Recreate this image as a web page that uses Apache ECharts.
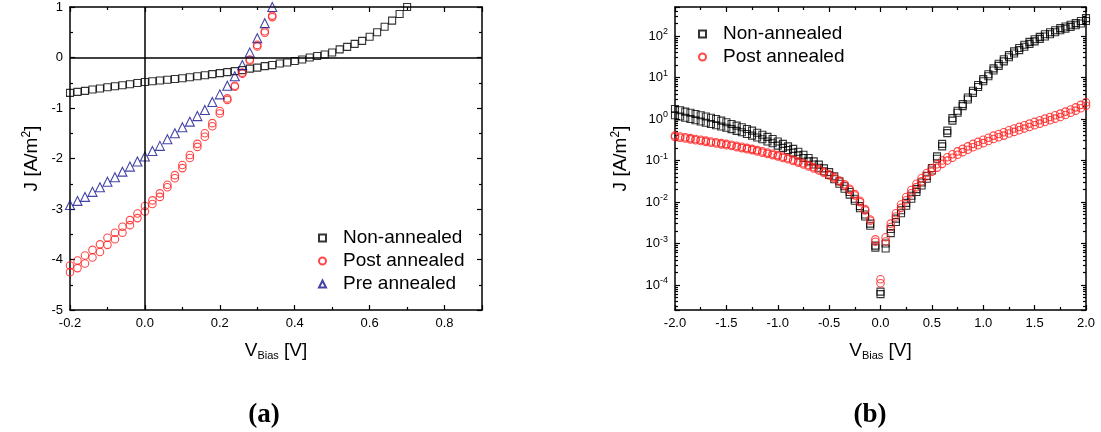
<!DOCTYPE html>
<html>
<head>
<meta charset="utf-8">
<script src="https://cdn.jsdelivr.net/npm/echarts@6/dist/echarts.min.js"></script>
<style>
  html, body { margin: 0; padding: 0; background: #fff; }
  #chart { width: 1101px; height: 432px; }
</style>
</head>
<body>
<div id="chart"></div>
<script>
// ---------- panel (a): J–V curves, linear scale ----------
const vLin = [-0.20,-0.18,-0.16,-0.14,-0.12,-0.10,-0.08,-0.06,-0.04,-0.02,
  0.00,0.02,0.04,0.06,0.08,0.10,0.12,0.14,0.16,0.18,
  0.20,0.22,0.24,0.26,0.28,0.30,0.32,0.34,0.36,0.38,
  0.40,0.42,0.44,0.46,0.48,0.50,0.52,0.54,0.56,0.58,
  0.60,0.62,0.64,0.66,0.68,0.70];
const jNonLin = [-0.70,-0.68,-0.66,-0.635,-0.615,-0.59,-0.57,-0.55,-0.53,-0.505,
  -0.485,-0.47,-0.455,-0.44,-0.425,-0.41,-0.39,-0.37,-0.35,-0.33,
  -0.31,-0.29,-0.27,-0.25,-0.22,-0.20,-0.17,-0.15,-0.12,-0.10,
  -0.07,-0.04,0.00,0.03,0.06,0.10,0.16,0.21,0.27,0.33,
  0.41,0.50,0.61,0.73,0.86,1.00];
const vAnn = [-0.20,-0.18,-0.16,-0.14,-0.12,-0.10,-0.08,-0.06,-0.04,-0.02,
  0.00,0.02,0.04,0.06,0.08,0.10,0.12,0.14,0.16,0.18,
  0.20,0.22,0.24,0.26,0.28,0.30,0.32,0.34];
// post annealed: two sweeps
const jPostLinA = [-4.12,-4.02,-3.92,-3.81,-3.70,-3.57,-3.47,-3.35,-3.22,-3.09,
  -2.94,-2.83,-2.69,-2.52,-2.33,-2.13,-1.93,-1.71,-1.50,-1.30,
  -1.06,-0.81,-0.56,-0.30,-0.04,0.25,0.52,0.83];
const jPostLinB = [-4.25,-4.17,-4.08,-3.96,-3.85,-3.71,-3.60,-3.47,-3.32,-3.18,
  -3.05,-2.90,-2.76,-2.57,-2.39,-2.19,-1.99,-1.77,-1.57,-1.36,
  -1.11,-0.84,-0.58,-0.32,-0.06,0.22,0.49,0.80];
const jPreLin = [-2.92,-2.84,-2.76,-2.66,-2.57,-2.46,-2.37,-2.26,-2.16,-2.06,
  -1.96,-1.85,-1.75,-1.62,-1.50,-1.38,-1.27,-1.16,-1.04,-0.88,
  -0.73,-0.56,-0.37,-0.15,0.10,0.38,0.68,1.00];
const xLabelsA = ['-0.2','0.0','0.2','0.4','0.6','0.8'];
const yLabelsA = ['-5','-4','-3','-2','-1','0','1'];

// ---------- panel (b): |J|–V curves, log scale ----------
const vLog = [-2.00,-1.95,-1.90,-1.85,-1.80,-1.75,-1.70,-1.65,-1.60,-1.55,
  -1.50,-1.45,-1.40,-1.35,-1.30,-1.25,-1.20,-1.15,-1.10,-1.05,
  -1.00,-0.95,-0.90,-0.85,-0.80,-0.75,-0.70,-0.65,-0.60,-0.55,
  -0.50,-0.45,-0.40,-0.35,-0.30,-0.25,-0.20,-0.15,-0.10,-0.05,
  0.00,
  0.05,0.10,0.15,0.20,0.25,0.30,0.35,0.40,0.45,0.50,
  0.55,0.60,0.65,0.70,0.75,0.80,0.85,0.90,0.95,1.00,
  1.05,1.10,1.15,1.20,1.25,1.30,1.35,1.40,1.45,1.50,
  1.55,1.60,1.65,1.70,1.75,1.80,1.85,1.90,1.95,2.00];
const jNonLogA = [1.74,1.62,1.51,1.41,1.32,1.23,1.15,1.07,1.00,0.912,
  0.832,0.759,0.692,0.631,0.575,0.525,0.468,0.417,0.372,0.331,
  0.288,0.251,0.219,0.191,0.162,0.138,0.115,0.0955,0.0794,0.0646,
  0.0525,0.0417,0.0316,0.0240,0.0174,0.0120,0.00794,0.00501,0.00302,0.000891,
  0.0000603,
  0.000759,0.00224,0.00398,0.00631,0.00955,0.0141,0.0204,0.0295,0.0427,0.0661,
  0.126,0.251,0.525,1.05,1.58,2.29,3.31,4.79,6.61,9.12,
  12.0,16.6,21.4,27.5,34.7,42.7,51.3,61.7,72.4,83.2,
  95.5,110,123,138,155,170,186,204,229,269];
const jNonLogB = [1.23,1.15,1.07,1.00,0.933,0.871,0.813,0.759,0.708,0.661,
  0.617,0.569,0.519,0.479,0.437,0.398,0.359,0.324,0.288,0.260,
  0.229,0.202,0.178,0.155,0.133,0.115,0.0955,0.0804,0.0668,0.0550,
  0.0447,0.0355,0.0275,0.0209,0.0151,0.0107,0.00708,0.00447,0.00269,0.000794,
  0.0000692,
  0.00100,0.00178,0.00331,0.00537,0.00813,0.0120,0.0174,0.0251,0.0363,0.0575,
  0.110,0.219,0.457,0.912,1.41,2.04,2.95,4.27,5.89,8.13,
  10.7,14.8,19.1,24.5,30.9,38.0,45.7,55.0,64.6,74.1,
  85.1,97.7,110,123,138,151,166,182,200,229];
const jPostLogA = [0.398,0.380,0.363,0.347,0.331,0.316,0.302,0.288,0.275,0.263,
  0.251,0.240,0.226,0.214,0.202,0.191,0.178,0.166,0.155,0.145,
  0.135,0.124,0.115,0.105,0.0955,0.0861,0.0776,0.0692,0.0617,0.0537,
  0.0468,0.0398,0.0331,0.0269,0.0209,0.0155,0.0107,0.00676,0.00380,0.00126,
  0.000138,
  0.00141,0.00302,0.00537,0.00871,0.0132,0.0195,0.0275,0.0380,0.0501,0.0646,
  0.0813,0.100,0.120,0.141,0.166,0.191,0.219,0.251,0.282,0.316,
  0.355,0.398,0.437,0.479,0.537,0.589,0.646,0.708,0.776,0.851,
  0.933,1.02,1.12,1.23,1.35,1.51,1.70,1.91,2.19,2.51];
const jPostLogB = [0.370,0.353,0.338,0.323,0.308,0.294,0.281,0.268,0.256,0.245,
  0.233,0.223,0.210,0.199,0.188,0.178,0.166,0.154,0.144,0.135,
  0.126,0.115,0.107,0.0977,0.0888,0.0801,0.0722,0.0644,0.0574,0.0499,
  0.0435,0.0370,0.0308,0.0250,0.0194,0.0144,0.00995,0.00629,0.00353,0.00110,
  0.000110,
  0.00112,0.00251,0.00446,0.00723,0.0110,0.0162,0.0228,0.0315,0.0416,0.0536,
  0.0675,0.0830,0.0996,0.117,0.138,0.159,0.182,0.208,0.234,0.262,
  0.295,0.330,0.363,0.398,0.446,0.489,0.536,0.588,0.644,0.706,
  0.774,0.847,0.930,1.02,1.12,1.25,1.41,1.59,1.82,2.08];
const xLabelsB = ['-2.0','-1.5','-1.0','-0.5','0.0','0.5','1.0','1.5','2.0'];
const logDecades = [-4,-3,-2,-1,0,1,2];
const logMinorSteps = [2,3,4,5,6,7,8,9];
const logRange = [2.5e-5, 500];

// ---------- shared styling ----------
const FONT = '"Liberation Sans", Arial, Helvetica, sans-serif';
const BLACK = '#000';
const RED = '#ff1a1a';
const NAVY = '#151590';

const pairs = (xs, ys) => xs.map((x, i) => [x, ys[i]]);
const labelFrom = list => v => {
  const hit = list.find(s => Math.abs(parseFloat(s) - v) < 1e-9);
  return hit === undefined ? '' : hit;
};

const axisLine = { show: true, onZero: false, lineStyle: { color: BLACK, width: 1.5 } };
const tick = { show: true, inside: true, length: 5, lineStyle: { color: BLACK, width: 1.2 } };
const minor = { show: true, splitNumber: 2, length: 3, lineStyle: { color: BLACK, width: 1.2 } };
const label = { color: BLACK, fontSize: 13, fontFamily: FONT, margin: 7 };

const vBiasName = '{v|V}{s|Bias}{v| [V]}';
const vBiasRich = {
  v: { fontSize: 19, fontFamily: FONT, color: BLACK },
  s: { fontSize: 11, fontFamily: FONT, color: BLACK, padding: [9, 0, 0, 0] }
};
const jName = '{v|J [A/m}{p|2}{v|]}';
const jRich = {
  v: { fontSize: 19, fontFamily: FONT, color: BLACK },
  p: { fontSize: 12, fontFamily: FONT, color: BLACK, padding: [0, 0, 9, 0] }
};

function linX(grid, min, max, interval, labels, mirror) {
  return {
    type: 'value', gridIndex: grid, position: mirror ? 'top' : 'bottom',
    min, max, interval,
    axisLine, axisTick: tick, minorTick: minor, splitLine: { show: false },
    axisLabel: mirror ? { show: false } : Object.assign({ formatter: labelFrom(labels) }, label),
    name: mirror ? '' : vBiasName, nameLocation: 'middle', nameGap: 31,
    nameTextStyle: { rich: vBiasRich }
  };
}

const logMinorTicks = [];
logDecades.concat([-5]).forEach(d => logMinorSteps.forEach(k => {
  const t = Math.log10(k) + d;
  if (t > Math.log10(logRange[0]) && t < Math.log10(logRange[1])) logMinorTicks.push(t);
}));

function logY(mirror) {
  return {
    type: 'log', logBase: 10, gridIndex: 1, position: mirror ? 'right' : 'left',
    min: logRange[0], max: logRange[1],
    axisLine, axisTick: tick, splitLine: { show: false }, minorTick: { show: false },
    axisLabel: mirror ? { show: false } : {
      formatter: v => {
        const e = Math.log10(v), n = Math.round(e);
        if (Math.abs(e - n) > 1e-6 || logDecades.indexOf(n) < 0) return '';
        return '{b|10}{s|' + n + '}';
      },
      margin: 7,
      rich: {
        b: { fontSize: 13, fontFamily: FONT, color: BLACK },
        s: { fontSize: 9, fontFamily: FONT, color: BLACK, padding: [0, 0, 8, 0] }
      }
    },
    name: mirror ? '' : jName, nameLocation: 'middle', nameGap: 44,
    nameTextStyle: { rich: jRich }
  };
}

// short ticks at 2..9 within every decade of the log axis
function logMinorAxis(mirror) {
  return {
    type: 'value', gridIndex: 1, position: mirror ? 'right' : 'left',
    min: Math.log10(logRange[0]), max: Math.log10(logRange[1]),
    axisLine: { show: false, onZero: false }, splitLine: { show: false },
    axisLabel: { show: false },
    axisTick: { show: true, inside: true, length: 3, customValues: logMinorTicks,
      lineStyle: { color: BLACK, width: 1.2 } }
  };
}

const hollow = c => ({ color: 'rgba(255,255,255,0)', borderColor: c, borderWidth: 1.1 });
const legendText = { fontSize: 19, fontFamily: FONT, color: BLACK, lineHeight: 20, padding: [0, 0, 0, 12] };
const captionFont = 'bold 27px "Liberation Serif", "DejaVu Serif", serif';

const option = {
  animation: false,
  backgroundColor: '#fff',
  grid: [
    { left: 70, top: 7, width: 412, height: 303 },
    { left: 675, top: 7, width: 411, height: 303 }
  ],
  xAxis: [
    linX(0, -0.2, 0.9, 0.2, xLabelsA, false),
    linX(0, -0.2, 0.9, 0.2, xLabelsA, true),
    linX(1, -2, 2, 0.5, xLabelsB, false),
    linX(1, -2, 2, 0.5, xLabelsB, true)
  ],
  yAxis: [
    {
      type: 'value', gridIndex: 0, position: 'left', min: -5, max: 1, interval: 1,
      axisLine, axisTick: tick, minorTick: minor, splitLine: { show: false },
      axisLabel: Object.assign({ formatter: labelFrom(yLabelsA) }, label),
      name: jName, nameLocation: 'middle', nameGap: 28, nameTextStyle: { rich: jRich }
    },
    {
      type: 'value', gridIndex: 0, position: 'right', min: -5, max: 1, interval: 1,
      axisLine, axisTick: tick, minorTick: minor, splitLine: { show: false },
      axisLabel: { show: false }
    },
    logY(false),
    logY(true),
    logMinorAxis(false),
    logMinorAxis(true)
  ],
  legend: [
    {
      data: ['Non-annealed', 'Post annealed', 'Pre annealed'],
      orient: 'vertical', left: 313, top: 223, itemWidth: 7, itemHeight: 7, itemGap: 3,
      selectedMode: false, textStyle: legendText
    },
    {
      data: ['Non-annealed', 'Post annealed'],
      orient: 'vertical', left: 693, top: 19, itemWidth: 7, itemHeight: 7, itemGap: 3,
      selectedMode: false, textStyle: legendText
    }
  ],
  series: [
    {
      name: 'Non-annealed', type: 'scatter', xAxisIndex: 0, yAxisIndex: 0,
      symbol: 'rect', symbolSize: 7, itemStyle: hollow(BLACK),
      data: pairs(vLin, jNonLin),
      markLine: {
        silent: true, symbol: ['none', 'none'], label: { show: false },
        lineStyle: { color: BLACK, width: 1.5, type: 'solid' },
        data: [{ xAxis: 0 }, { yAxis: 0 }]
      }
    },
    {
      name: 'Post annealed', type: 'scatter', xAxisIndex: 0, yAxisIndex: 0,
      symbol: 'circle', symbolSize: 7.5, itemStyle: hollow(RED),
      data: pairs(vAnn, jPostLinA).concat(pairs(vAnn, jPostLinB))
    },
    {
      name: 'Pre annealed', type: 'scatter', xAxisIndex: 0, yAxisIndex: 0,
      symbol: 'triangle', symbolSize: 9, itemStyle: hollow(NAVY),
      data: pairs(vAnn, jPreLin)
    },
    {
      name: 'Non-annealed', type: 'scatter', xAxisIndex: 2, yAxisIndex: 2,
      symbol: 'rect', symbolSize: 7, itemStyle: hollow(BLACK),
      data: pairs(vLog, jNonLogA).concat(pairs(vLog, jNonLogB))
    },
    {
      name: 'Post annealed', type: 'scatter', xAxisIndex: 2, yAxisIndex: 2,
      symbol: 'circle', symbolSize: 7.5, itemStyle: hollow(RED),
      data: pairs(vLog, jPostLogA).concat(pairs(vLog, jPostLogB))
    }
  ],
  graphic: [
    { type: 'text', x: 264, y: 415,
      style: { text: '(a)', textAlign: 'center', textVerticalAlign: 'middle',
        font: captionFont, fill: BLACK } },
    { type: 'text', x: 870, y: 415,
      style: { text: '(b)', textAlign: 'center', textVerticalAlign: 'middle',
        font: captionFont, fill: BLACK } }
  ]
};

const chart = echarts.init(document.getElementById('chart'), null, { renderer: 'canvas' });
chart.setOption(option);
</script>
</body>
</html>
